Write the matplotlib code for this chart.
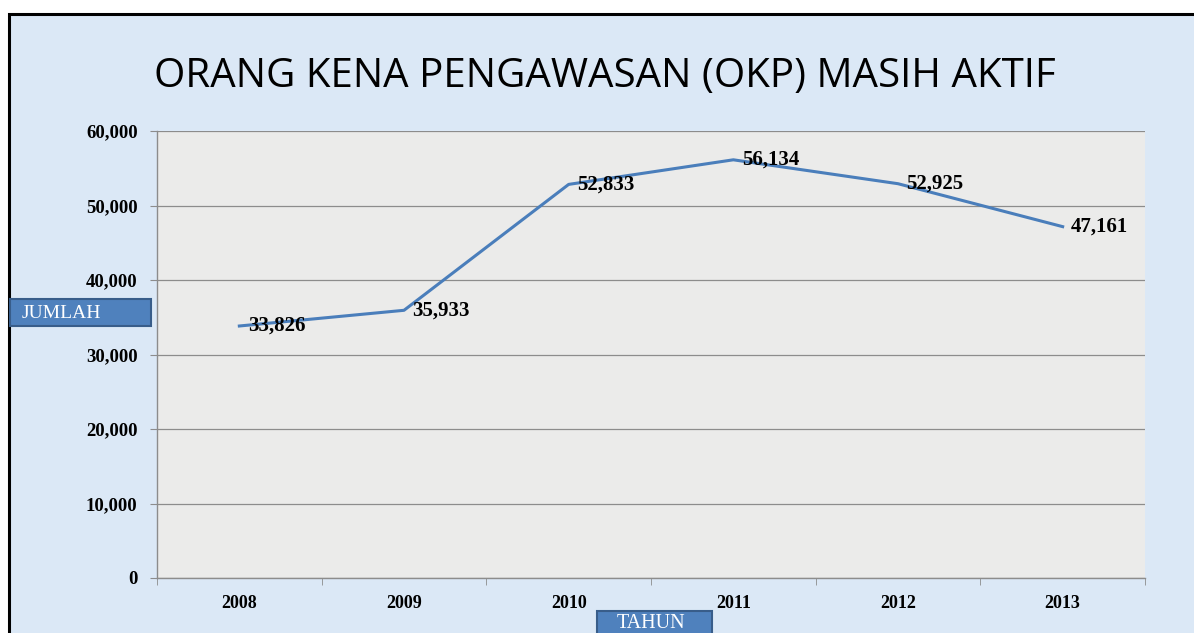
import matplotlib
matplotlib.use("Agg")
import matplotlib.pyplot as plt
from matplotlib.patches import Rectangle
from matplotlib.ticker import FuncFormatter, FixedLocator

years = ["2008", "2009", "2010", "2011", "2012", "2013"]
values = [33826, 35933, 52833, 56134, 52925, 47161]
labels = ["33,826", "35,933", "52,833", "56,134", "52,925", "47,161"]
title = "ORANG KENA PENGAWASAN (OKP) MASIH AKTIF"
ylabel = "JUMLAH"
xlabel = "TAHUN"

W, H = 1194, 633
fig = plt.figure(figsize=(W / 100, H / 100), dpi=100)
fig.patch.set_facecolor("white")

# blue framed background
fig.patches.append(Rectangle((9 / W, -0.01), 1.02, (H - 14) / H + 0.01,
                             transform=fig.transFigure, facecolor="#dbe8f6",
                             edgecolor="black", linewidth=2.2, zorder=-10))

ax = fig.add_axes([157 / W, (H - 578) / H, 988 / W, 447 / H])
ax.set_zorder(1)
ax.set_facecolor("#ebebea")
x = list(range(len(years)))
ax.plot(x, values, color="#4a7ebb", linewidth=2.2, zorder=3)
for xi, v, lab in zip(x, values, labels):
    ax.annotate(lab, (xi, v), xytext=(6, 0), textcoords="offset points",
                ha="left", va="center", fontsize=15, fontweight="bold",
                family="Liberation Serif", color="black", zorder=4)

ax.set_xlim(-0.5, len(years) - 0.5)
ax.set_ylim(0, 60000)
ax.set_yticks(range(0, 60001, 10000))
ax.yaxis.set_major_formatter(FuncFormatter(lambda v, p: f"{int(v):,}"))
ax.grid(axis="y", color="#8c8c8c", linewidth=0.9, zorder=1)
ax.set_axisbelow(True)

ax.set_xticks(x)
ax.set_xticklabels(years)
ax.xaxis.set_minor_locator(FixedLocator([i - 0.5 for i in range(len(years) + 1)]))
ax.tick_params(axis="x", which="major", length=0, pad=12, labelsize=13)
ax.tick_params(axis="x", which="minor", length=5, color="#8c8c8c", direction="out")
ax.tick_params(axis="y", length=5, color="#8c8c8c", pad=9, labelsize=13.5)
for lab in ax.get_xticklabels() + ax.get_yticklabels():
    lab.set_fontfamily("Liberation Serif")
    lab.set_fontweight("bold")

for side in ["top", "right"]:
    ax.spines[side].set_visible(False)
for side in ["left", "bottom"]:
    ax.spines[side].set_color("#8c8c8c")
    ax.spines[side].set_linewidth(1)

fig.text(605 / W, (H - 77) / H, title, ha="center", va="center",
         fontsize=29, family="Open Sans", color="black")

# JUMLAH box
fig.patches.append(Rectangle((10 / W, (H - 326) / H), 141 / W, 27 / H,
                             transform=fig.transFigure, facecolor="#4f81bd",
                             edgecolor="#385d8a", linewidth=1.5, zorder=5))
fig.text(22 / W, (H - 313) / H, ylabel, ha="left", va="center",
         fontsize=14, family="Liberation Serif", color="white", zorder=6)

# TAHUN box
fig.patches.append(Rectangle((597 / W, -0.01), 115 / W, (22 / H) + 0.01,
                             transform=fig.transFigure, facecolor="#4f81bd",
                             edgecolor="#385d8a", linewidth=1.5, zorder=5))
fig.text(651 / W, (H - 624) / H, xlabel, ha="center", va="center",
         fontsize=14.5, family="Liberation Serif", color="white", zorder=6)

fig.savefig("out.png", dpi=100)
